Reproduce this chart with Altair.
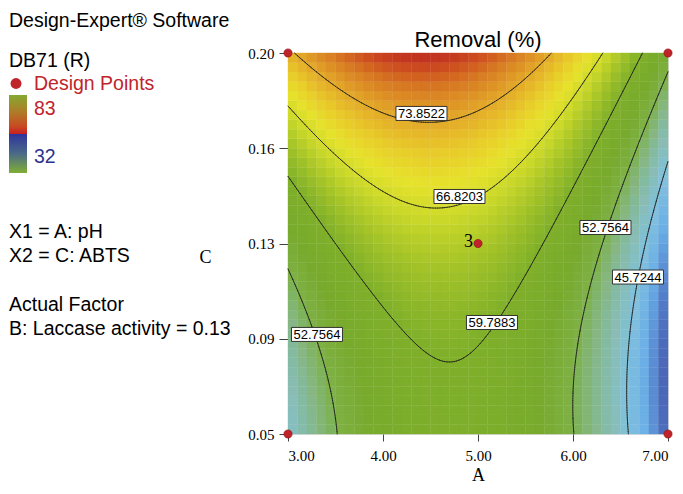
import numpy as np
import pandas as pd
import altair as alt

# ---------------- data ----------------
A_DOMAIN = [3.0, 7.0]
C_DOMAIN = [0.05, 0.20]
x_ticks = [3.0, 4.0, 5.0, 6.0, 7.0]
y_ticks = [0.05, 0.0875, 0.125, 0.1625, 0.20]
y_tick_labels = ["0.05", "0.09", "0.13", "0.16", "0.20"]

# fitted quadratic response surface (coded units), estimated from the contours
# order: b0, bA, bC, bAA, bCC, bAC
coef = [63.9, -6.53, 10.54, -16.0, 5.38, -2.75]

contour_levels = [45.7244, 52.7564, 59.7883, 66.8203, 73.8522]
label_text = ["73.8522", "66.8203", "52.7564", "45.7244", "59.7883", "52.7564"]
label_A = [4.405, 4.805, 6.342, 6.684, 5.147, 3.305]
label_C = [0.1762, 0.1435, 0.1313, 0.1118, 0.0939, 0.0892]

design_A = [3.0, 3.0, 7.0, 7.0, 5.0]
design_C = [0.05, 0.20, 0.05, 0.20, 0.125]
design_lab = ["", "", "", "", "3"]

title_text = "Removal (%)"
left_texts = ["Design-Expert® Software", "DB71 (R)", "Design Points", "83", "32",
              "X1 = A: pH", "X2 = C: ABTS", "Actual Factor",
              "B: Laccase activity = 0.13"]

# ---------------- surface ----------------
def model(A, C):
    x = (A - 5.0) / 2.0
    z = (C - 0.125) / 0.075
    b0, b1, b2, b11, b22, b12 = coef
    return b0 + b1 * x + b2 * z + b11 * x * x + b22 * z * z + b12 * x * z

ncell = 40
a_edges = np.linspace(A_DOMAIN[0], A_DOMAIN[1], ncell + 1)
c_edges = np.linspace(C_DOMAIN[0], C_DOMAIN[1], ncell + 1)
rows = []
for i in range(ncell):
    for j in range(ncell):
        ac = 0.5 * (a_edges[j] + a_edges[j + 1])
        cc = 0.5 * (c_edges[i] + c_edges[i + 1])
        rows.append(dict(a0=a_edges[j], a1=a_edges[j + 1], c0=c_edges[i], c1=c_edges[i + 1],
                         R=float(model(ac, cc))))
heat = pd.DataFrame(rows)

# contour segments by marching squares
ng = 161
ag = np.linspace(A_DOMAIN[0], A_DOMAIN[1], ng)
cg = np.linspace(C_DOMAIN[0], C_DOMAIN[1], ng)
AA, CC = np.meshgrid(ag, cg)
Z = model(AA, CC)
segs = []
for lev in contour_levels:
    for i in range(ng - 1):
        for j in range(ng - 1):
            corners = [(ag[j], cg[i], Z[i, j]), (ag[j + 1], cg[i], Z[i, j + 1]),
                       (ag[j + 1], cg[i + 1], Z[i + 1, j + 1]), (ag[j], cg[i + 1], Z[i + 1, j])]
            pts = []
            for k in range(4):
                a0, c0, v0 = corners[k]
                a1, c1, v1 = corners[(k + 1) % 4]
                if (v0 - lev) * (v1 - lev) < 0:
                    t = (lev - v0) / (v1 - v0)
                    pts.append((a0 + t * (a1 - a0), c0 + t * (c1 - c0)))
            if len(pts) >= 2:
                segs.append(dict(xa=pts[0][0], ya=pts[0][1], xb=pts[1][0], yb=pts[1][1]))
            if len(pts) == 4:
                segs.append(dict(xa=pts[2][0], ya=pts[2][1], xb=pts[3][0], yb=pts[3][1]))
seg_df = pd.DataFrame(segs)

labels_df = pd.DataFrame(dict(A=label_A, C=label_C, t=label_text))
design_df = pd.DataFrame(dict(A=design_A, C=design_C, lab=design_lab))

# ---------------- styling ----------------
W, H = 380, 381
SANS = "Liberation Sans"
SERIF = "Liberation Serif"
RED = "#c0242a"

stops_v = [38.5, 40, 41.5, 43, 45.5, 48, 50.5, 53, 56, 60, 63, 66, 68.5, 71, 74, 77, 79.5, 81.5]
stops_c = ["#4357a8", "#4f72c0", "#5d92d6", "#6cb0e6", "#84c0de", "#8bbcb4", "#88b684",
           "#7eb044", "#78aa2c", "#80b02a", "#a2c228", "#cad82a", "#e6e22c", "#e8cc2a",
           "#e2a82a", "#d87e24", "#cc4a20", "#b81e1e"]
cscale = alt.Scale(domain=stops_v, range=stops_c, clamp=True)

xs = alt.Scale(domain=A_DOMAIN, nice=False, zero=False)
ys = alt.Scale(domain=C_DOMAIN, nice=False, zero=False)

label_expr = "[" + ",".join("'%s'" % s for s in y_tick_labels) + "][round((datum.value-0.05)/0.0375)]"

heat_layer = alt.Chart(heat).mark_rect(strokeWidth=0.4).encode(
    x=alt.X("a0:Q", scale=xs, axis=alt.Axis(values=x_ticks, format=".2f", title="A",
                                            titleX=190, titleY=46, titleBaseline="alphabetic",
                                            titleFont=SERIF, titleFontSize=18, titleFontWeight="normal",
                                            labelFont=SERIF, labelFontSize=15, labelColor="black",
                                            tickSize=7, tickColor="#444", labelPadding=7,
                                            domain=False, grid=False)),
    x2="a1:Q",
    y=alt.Y("c0:Q", scale=ys, axis=alt.Axis(values=y_ticks, labelExpr=label_expr, title="C",
                                            titleAngle=0, titleX=-83, titleY=209,
                                            titleAlign="center", titleBaseline="alphabetic",
                                            titleFont=SERIF, titleFontSize=18, titleFontWeight="normal",
                                            labelFont=SERIF, labelFontSize=15, labelColor="black",
                                            tickSize=9, tickColor="#444", labelPadding=5,
                                            domain=False, grid=False)),
    y2="c1:Q",
    color=alt.Color("R:Q", scale=cscale, legend=None),
    stroke=alt.Stroke("R:Q", scale=cscale, legend=None),
)

contour_layer = alt.Chart(seg_df).mark_rule(color="#1a1a1a", strokeWidth=0.8, strokeCap="round").encode(
    x=alt.X("xa:Q", scale=xs), y=alt.Y("ya:Q", scale=ys),
    x2="xb:Q", y2="yb:Q")

box_path = "M-3.643,-1H3.643V1H-3.643Z"
box_layer = alt.Chart(labels_df).mark_point(shape=box_path, size=196, filled=True, fill="white",
                                            stroke="#222", strokeWidth=0.9, opacity=1).encode(
    x=alt.X("A:Q", scale=xs), y=alt.Y("C:Q", scale=ys))
box_text = alt.Chart(labels_df).mark_text(font=SANS, fontSize=13, color="black",
                                          align="center", baseline="middle", dy=0.5).encode(
    x=alt.X("A:Q", scale=xs), y=alt.Y("C:Q", scale=ys), text="t:N")

pts_layer = alt.Chart(design_df).mark_circle(size=68, color=RED, opacity=1, stroke="#8a1010",
                                             strokeWidth=0.6).encode(
    x=alt.X("A:Q", scale=xs), y=alt.Y("C:Q", scale=ys))
pts_text = alt.Chart(design_df).mark_text(font=SERIF, fontSize=18, color="black", align="right",
                                          baseline="alphabetic", dx=-5, dy=3).encode(
    x=alt.X("A:Q", scale=xs), y=alt.Y("C:Q", scale=ys), text="lab:N")

one = pd.DataFrame({"k": [0]})
OX, OY = 288, 53  # page position of plot origin


def txt(s, px, py, size, color="black", font=SANS, align="left"):
    return alt.Chart(pd.DataFrame({"t": [s]})).mark_text(
        font=font, fontSize=size, color=color, align=align, baseline="alphabetic").encode(
        x=alt.value(px - OX), y=alt.value(py - OY), text="t:N")


left_pos = [(9, 27, "black"), (9, 67, "black"), (34, 90, RED), (34, 115, RED), (34, 163, "#2e3390"),
            (9, 238, "black"), (9, 262, "black"), (9, 311, "black"), (9, 335, "black")]
text_layers = [txt(s, p[0], p[1], 19.5, p[2]) for s, p in zip(left_texts, left_pos)]
text_layers.append(txt(title_text, 478, 47, 22, align="center"))

grad_top = alt.LinearGradient(gradient="linear", x1=0, y1=0, x2=0, y2=1,
                              stops=[alt.GradientStop(color="#84aa30", offset=0),
                                     alt.GradientStop(color="#b07a28", offset=0.45),
                                     alt.GradientStop(color="#c84a22", offset=0.8),
                                     alt.GradientStop(color="#c82020", offset=1)])
grad_bot = alt.LinearGradient(gradient="linear", x1=0, y1=0, x2=0, y2=1,
                              stops=[alt.GradientStop(color="#30349c", offset=0),
                                     alt.GradientStop(color="#4a6a88", offset=0.5),
                                     alt.GradientStop(color="#80ae34", offset=1)])
bar_top = alt.Chart(one).mark_rect(color=grad_top).encode(
    x=alt.value(9 - OX), x2=alt.value(27 - OX), y=alt.value(95 - OY), y2=alt.value(134 - OY))
bar_bot = alt.Chart(one).mark_rect(color=grad_bot).encode(
    x=alt.value(9 - OX), x2=alt.value(27 - OX), y=alt.value(134 - OY), y2=alt.value(173 - OY))
leg_dot = alt.Chart(one).mark_circle(size=120, color=RED, opacity=1).encode(
    x=alt.value(16 - OX), y=alt.value(83.5 - OY))

chart = alt.layer(heat_layer, contour_layer, box_layer, box_text, pts_layer, pts_text,
                  bar_top, bar_bot, leg_dot, *text_layers).properties(
    width=W, height=H,
    padding={"left": 280, "top": 45, "right": 7, "bottom": 52},
    autosize=alt.AutoSizeParams(type="none"),
).configure_view(stroke="#555", strokeWidth=1).configure(background="white")

chart.save("out.html", embed_options={"renderer": "svg", "actions": False})
